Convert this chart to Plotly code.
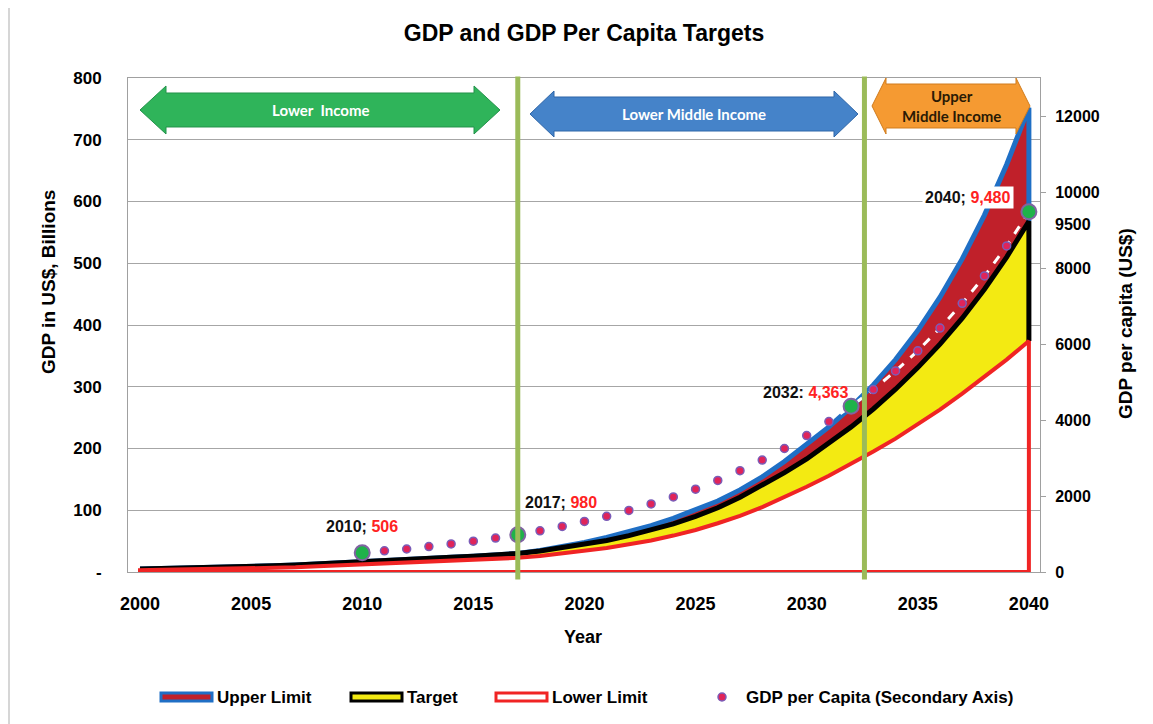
import plotly.graph_objects as go

# ---------------- data ----------------
years = list(range(2000, 2041))
upper = [5, 5.5, 6, 6.5, 7.5, 8.5, 10, 11.5, 13.5, 15, 17, 19, 20.5, 22, 24, 25.5, 27.5,
         30, 35, 41, 48, 56, 65, 75, 87, 100, 115, 133, 154, 179, 206, 235, 267,
         303, 344, 391, 445, 507, 578, 660, 752]
target = [5, 5.5, 6, 6.5, 7.5, 8.5, 10, 11.5, 13.5, 15, 17, 19, 20.5, 22, 24, 25.5, 27.5,
          30, 34, 39, 44, 51, 59, 68, 78, 90, 104, 121, 140, 161, 183, 208, 235,
          264, 296, 331, 369, 411, 458, 510, 568]
lower = [3, 3.5, 4, 4.5, 5, 5.5, 6.5, 7.5, 9.5, 11, 12.5, 14, 15, 16, 17.5, 19, 20.5,
         23, 26, 30, 34, 39, 45, 51, 59, 68, 79, 91, 105, 121, 138, 156, 175,
         195, 216, 239, 263, 289, 316, 344, 374]

pc_years = list(range(2010, 2041))
pc_values = [506, 556, 605, 668, 738, 812, 893, 980, 1085, 1200, 1330, 1465, 1620, 1790,
             1975, 2180, 2410, 2665, 2945, 3250, 3590, 3960, 4363, 4800, 5290, 5820,
             6420, 7070, 7790, 8580, 9480]
highlight_years = [2010, 2017, 2032, 2040]
highlight_seps = [";", ";", ":", ";"]

income_bounds = [2017, 2032.6]
income_labels = ["Lower  Income", "Lower Middle Income", "Upper<br>Middle Income"]

legend_labels = ["Upper Limit", "Target", "Lower Limit", "GDP per Capita (Secondary Axis)"]

x_ticks = list(range(2000, 2041, 5))
y_ticks = list(range(0, 801, 100))
y_ticktext = ["-"] + [str(v) for v in y_ticks[1:]]
y2_ticks = list(range(0, 12001, 2000))
y2_ticktext = [str(v) for v in y2_ticks]

# ---------------- style ----------------
FONT = "Liberation Sans, Arial, sans-serif"
BLUE = "#1f6fc5"
DARKRED = "#c0202a"
YELLOW = "#f3ea12"
RED = "#f02424"
GREEN_LINE = "#9bbb59"
# page offset of the figure inside the browser (body margin)
OFF = 8
W, H = 1153 - OFF, 724 - OFF
# plot area in window pixel coordinates
PL, PR, PT, PB = 128, 1040, 78, 572


def px(x):
    return (x - PL) / (PR - PL)


def py(y):
    return (PB - y) / (PB - PT)


fig = go.Figure()

# Upper band (red fill)
fig.add_trace(go.Scatter(x=years + years[::-1], y=upper + target[::-1], fill="toself",
                         fillcolor=DARKRED, line=dict(width=0), mode="lines",
                         hoverinfo="skip", showlegend=False))
# Target band (yellow fill)
fig.add_trace(go.Scatter(x=years + years[::-1], y=target + lower[::-1], fill="toself",
                         fillcolor=YELLOW, line=dict(width=0), mode="lines",
                         hoverinfo="skip", showlegend=False))
# Upper line (blue)
fig.add_trace(go.Scatter(x=years + [years[-1]], y=upper + [target[-1]], mode="lines",
                         line=dict(color=BLUE, width=5), name=legend_labels[0],
                         showlegend=False))
# Target line (black)
fig.add_trace(go.Scatter(x=years + [years[-1]], y=target + [lower[-1]], mode="lines",
                         line=dict(color="black", width=5), name=legend_labels[1],
                         showlegend=False))
# Lower line (red outline)
fig.add_trace(go.Scatter(x=[years[0]] + years + [years[-1], years[0]],
                         y=[0] + lower + [0, 0], mode="lines",
                         line=dict(color=RED, width=4), name=legend_labels[2],
                         showlegend=False))
# GDP per capita
fig.add_trace(go.Scatter(x=pc_years, y=pc_values, yaxis="y2", mode="lines+markers",
                         line=dict(color="white", width=3, dash="dash"),
                         marker=dict(size=8, color="#e0245a",
                                     line=dict(color="#7a5cb8", width=1.5)),
                         name=legend_labels[3], showlegend=False))
hl_vals = [pc_values[pc_years.index(yr)] for yr in highlight_years]
fig.add_trace(go.Scatter(x=highlight_years, y=hl_vals, yaxis="y2", mode="markers",
                         marker=dict(size=15, color="#1fb24a",
                                     line=dict(color="#8064a2", width=2)),
                         showlegend=False))

shapes = []
annotations = []

# income boundaries
for xb in income_bounds:
    shapes.append(dict(type="line", xref="x", yref="paper", x0=xb, x1=xb,
                       y0=-0.015, y1=1.003, line=dict(color=GREEN_LINE, width=5),
                       layer="above"))


def arrow_path(x0, x1, yc, hh, sh, hw):
    pts = [(x0, yc), (x0 + hw, yc - hh), (x0 + hw, yc - sh), (x1 - hw, yc - sh),
           (x1 - hw, yc - hh), (x1, yc), (x1 - hw, yc + hh), (x1 - hw, yc + sh),
           (x0 + hw, yc + sh), (x0 + hw, yc + hh)]
    d = "M" + " L".join(f"{px(a):.5f},{py(b):.5f}" for a, b in pts) + " Z"
    return d


arrows = [
    dict(x0=140, x1=500, yc=110, hh=24, sh=17, hw=26, fill="#2fb45a", edge="#23924a",
         tc="white"),
    dict(x0=530, x1=858, yc=114, hh=23, sh=17, hw=24, fill="#4583c9", edge="#2f66a8",
         tc="white"),
    dict(x0=872, x1=1030, yc=106, hh=28, sh=22, hw=14, fill="#f59a32", edge="#d07b1c",
         tc="#2a1a05"),
]
for a, lab in zip(arrows, income_labels):
    shapes.append(dict(type="path", xref="paper", yref="paper",
                       path=arrow_path(a["x0"], a["x1"], a["yc"], a["hh"], a["sh"], a["hw"]),
                       fillcolor=a["fill"], line=dict(color=a["edge"], width=1),
                       layer="above"))
    annotations.append(dict(xref="paper", yref="paper", x=px((a["x0"] + a["x1"]) / 2),
                            y=py(a["yc"]), text=lab, showarrow=False,
                            font=dict(family="Lato, sans-serif", size=15, color=a["tc"],
                                      weight="bold"),
                            xanchor="center", yanchor="middle"))

# data labels
label_shifts = {2010: (0, 26), 2017: (43, 32), 2032: (-45, 14), 2040: (-61, 14)}
for yr, sep in zip(highlight_years, highlight_seps):
    val = pc_values[pc_years.index(yr)]
    xs, ys = label_shifts[yr]
    txt = (f"<span style='color:#111111'>{yr}{sep} </span>"
           f"<span style='color:#ff2222'>{val:,}</span>")
    ann = dict(x=yr, y=val, xref="x", yref="y2", text=txt, showarrow=False,
               xshift=xs, yshift=ys, font=dict(family=FONT, size=16, weight="bold"),
               xanchor="center", yanchor="middle")
    if yr == 2040:
        ann.update(bgcolor="white", borderpad=2)
    annotations.append(ann)

# 9500 text box on the secondary axis
annotations.append(dict(xref="paper", yref="paper", x=px(1053), y=py(224), text="9500",
                        showarrow=False, xanchor="left", yanchor="middle",
                        font=dict(family=FONT, size=16, weight="bold", color="black")))

# axis titles (placed as in the reference)
annotations.append(dict(xref="paper", yref="paper", x=px(48), y=py(282),
                        text="GDP in US$, Billions", textangle=-90, showarrow=False,
                        xanchor="center", yanchor="middle",
                        font=dict(family=FONT, size=19, weight="bold", color="black")))
annotations.append(dict(xref="paper", yref="paper", x=px(1125), y=py(324),
                        text="GDP per capita (US$)", textangle=-90, showarrow=False,
                        xanchor="center", yanchor="middle",
                        font=dict(family=FONT, size=19, weight="bold", color="black")))
annotations.append(dict(xref="paper", yref="paper", x=px(583), y=py(637),
                        text="Year", showarrow=False,
                        xanchor="center", yanchor="middle",
                        font=dict(family=FONT, size=18, weight="bold", color="black")))

# custom legend
leg_y = 697
leg_items = [(160, DARKRED, BLUE), (350, YELLOW, "black"), (495, "white", RED)]
for (lx, fc, lc), lab in zip(leg_items, legend_labels[:3]):
    shapes.append(dict(type="rect", xref="paper", yref="paper", x0=px(lx + 1),
                       x1=px(lx + 52), y0=py(leg_y - 4), y1=py(leg_y + 4),
                       fillcolor=fc, line=dict(color=lc, width=3)))
    annotations.append(dict(xref="paper", yref="paper", x=px(lx + 55), y=py(leg_y),
                            text=lab, showarrow=False, xanchor="left", yanchor="middle",
                            font=dict(family=FONT, size=17, weight="bold", color="black")))
shapes.append(dict(type="circle", xref="paper", yref="paper", x0=px(718), x1=px(726),
                   y0=py(leg_y - 4), y1=py(leg_y + 4), fillcolor="#e0245a",
                   line=dict(color="#7a5cb8", width=1.5)))
annotations.append(dict(xref="paper", yref="paper", x=px(744), y=py(leg_y),
                        text=legend_labels[3], showarrow=False, xanchor="left",
                        yanchor="middle",
                        font=dict(family=FONT, size=17, weight="bold", color="black")))

# outer chart border (left edge)
shapes.append(dict(type="line", xref="paper", yref="paper", x0=px(9), x1=px(9),
                   y0=py(724), y1=py(0), line=dict(color="#c8c8c8", width=1.5)))

fig.update_layout(
    width=W, height=H,
    margin=dict(l=PL - OFF, r=W - (PR - OFF), t=PT - OFF, b=H - (PB - OFF)),
    paper_bgcolor="white", plot_bgcolor="white",
    showlegend=False,
    title=dict(text="GDP and GDP Per Capita Targets", xref="paper", x=0.5,
               xanchor="center", yref="container", y=1 - (33 - OFF) / H,
               yanchor="middle",
               font=dict(family=FONT, size=23, weight="bold", color="black")),
    font=dict(family=FONT, color="black"),
    xaxis=dict(range=[1999.46, 2040.5], tickvals=x_ticks, showgrid=False,
               zeroline=False, showline=True, linecolor="#a0a0a0", linewidth=1,
               mirror=True, ticks="", ticklabelstandoff=15,
               tickfont=dict(family=FONT, size=18, weight="bold")),
    yaxis=dict(range=[0, 800], tickvals=y_ticks, ticktext=y_ticktext, showgrid=True,
               gridcolor="#a6a6a6", gridwidth=1, zeroline=False, showline=True,
               linecolor="#a0a0a0", linewidth=1, mirror=True, ticks="",
               ticklabelstandoff=22,
               tickfont=dict(family=FONT, size=17, weight="bold")),
    yaxis2=dict(range=[0, 13000], overlaying="y", side="right", tickvals=y2_ticks,
                ticktext=y2_ticktext,
                showgrid=False, zeroline=False, showline=False, ticks="outside",
                ticklen=5, tickcolor="#a0a0a0", ticklabelstandoff=6,
                tickfont=dict(family=FONT, size=16, weight="bold")),
    shapes=shapes,
    annotations=annotations,
)

fig.write_html("out.html")
